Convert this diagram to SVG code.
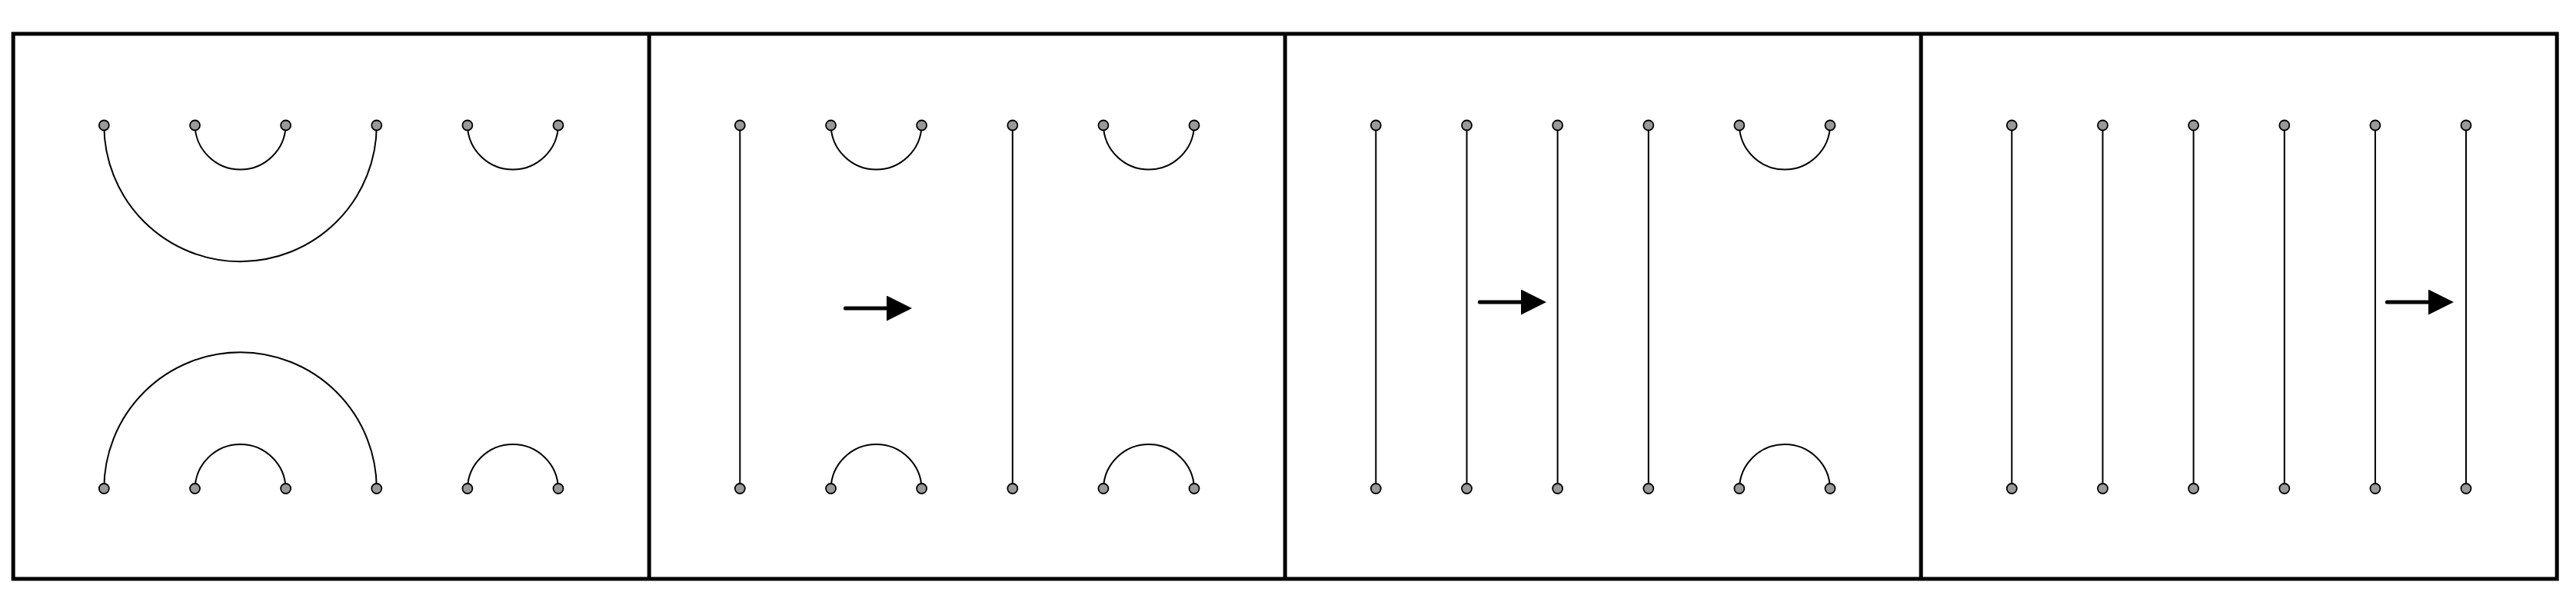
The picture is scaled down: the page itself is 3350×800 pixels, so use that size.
<svg xmlns="http://www.w3.org/2000/svg" width="3350" height="800" viewBox="0 0 3350 800">
<style>
.frame{fill:none;stroke:#000;stroke-width:5}
.div{stroke:#000;stroke-width:5}
.c{fill:none;stroke:#000;stroke-width:2}
.n{fill:#999;stroke:#000;stroke-width:1.8}
.arr{stroke:#000;stroke-width:5;stroke-linecap:round;fill:none}
</style>
<defs>
<marker id="ah" markerUnits="userSpaceOnUse" markerWidth="34" markerHeight="34" refX="1" refY="16.5" orient="auto" viewBox="0 0 34 34">
<path d="M0,0 L33,16.5 L0,33 z" fill="#000"/>
</marker>
</defs>
<rect width="3350" height="800" fill="#fff"/>
<g id="frame">
<rect class="frame" x="17.2" y="44" width="3308" height="709"/>
<line class="div" x1="844.2" y1="44" x2="844.2" y2="753"/>
<line class="div" x1="1671.2" y1="44" x2="1671.2" y2="753"/>
<line class="div" x1="2498.2" y1="44" x2="2498.2" y2="753"/>
</g>
<g id="connectors">
<!-- panel 1 -->
<path class="c" d="M135.3,163 A177.2,177.2 0 0 0 489.8,163"/>
<path class="c" d="M253.5,163 A59.07,59.07 0 0 0 371.6,163"/>
<path class="c" d="M607.9,163 A59.07,59.07 0 0 0 726.0,163"/>
<path class="c" d="M135.3,635.5 A177.2,177.2 0 0 1 489.8,635.5"/>
<path class="c" d="M253.5,635.5 A59.07,59.07 0 0 1 371.6,635.5"/>
<path class="c" d="M607.9,635.5 A59.07,59.07 0 0 1 726.0,635.5"/>
<!-- panel 2 -->
<line class="c" x1="962.3" y1="163" x2="962.3" y2="635.5"/>
<line class="c" x1="1316.8" y1="163" x2="1316.8" y2="635.5"/>
<path class="c" d="M1080.5,163 A59.07,59.07 0 0 0 1198.6,163"/>
<path class="c" d="M1434.9,163 A59.07,59.07 0 0 0 1553.0,163"/>
<path class="c" d="M1080.5,635.5 A59.07,59.07 0 0 1 1198.6,635.5"/>
<path class="c" d="M1434.9,635.5 A59.07,59.07 0 0 1 1553.0,635.5"/>
<line class="arr" x1="1099.3" y1="401" x2="1154" y2="401" marker-end="url(#ah)"/>
<!-- panel 3 -->
<line class="c" x1="1789.3" y1="163" x2="1789.3" y2="635.5"/>
<line class="c" x1="1907.5" y1="163" x2="1907.5" y2="635.5"/>
<line class="c" x1="2025.6" y1="163" x2="2025.6" y2="635.5"/>
<line class="c" x1="2143.8" y1="163" x2="2143.8" y2="635.5"/>
<path class="c" d="M2261.9,163 A59.07,59.07 0 0 0 2380.0,163"/>
<path class="c" d="M2261.9,635.5 A59.07,59.07 0 0 1 2380.0,635.5"/>
<line class="arr" x1="1924.3" y1="393" x2="1979" y2="393" marker-end="url(#ah)"/>
<!-- panel 4 -->
<line class="c" x1="2616.3" y1="163" x2="2616.3" y2="635.5"/>
<line class="c" x1="2734.5" y1="163" x2="2734.5" y2="635.5"/>
<line class="c" x1="2852.6" y1="163" x2="2852.6" y2="635.5"/>
<line class="c" x1="2970.8" y1="163" x2="2970.8" y2="635.5"/>
<line class="c" x1="3088.9" y1="163" x2="3088.9" y2="635.5"/>
<line class="c" x1="3207.0" y1="163" x2="3207.0" y2="635.5"/>
<line class="arr" x1="3104.3" y1="393" x2="3159" y2="393" marker-end="url(#ah)"/>
</g>
<g id="nodes-panel1">
<circle class="n" cx="135.3" cy="163" r="6.5"/><circle class="n" cx="253.5" cy="163" r="6.5"/><circle class="n" cx="371.6" cy="163" r="6.5"/><circle class="n" cx="489.8" cy="163" r="6.5"/><circle class="n" cx="607.9" cy="163" r="6.5"/><circle class="n" cx="726.0" cy="163" r="6.5"/>
<circle class="n" cx="135.3" cy="635.5" r="6.5"/><circle class="n" cx="253.5" cy="635.5" r="6.5"/><circle class="n" cx="371.6" cy="635.5" r="6.5"/><circle class="n" cx="489.8" cy="635.5" r="6.5"/><circle class="n" cx="607.9" cy="635.5" r="6.5"/><circle class="n" cx="726.0" cy="635.5" r="6.5"/>
</g>
<g id="nodes-panel2">
<circle class="n" cx="962.3" cy="163" r="6.5"/><circle class="n" cx="1080.5" cy="163" r="6.5"/><circle class="n" cx="1198.6" cy="163" r="6.5"/><circle class="n" cx="1316.8" cy="163" r="6.5"/><circle class="n" cx="1434.9" cy="163" r="6.5"/><circle class="n" cx="1553.0" cy="163" r="6.5"/>
<circle class="n" cx="962.3" cy="635.5" r="6.5"/><circle class="n" cx="1080.5" cy="635.5" r="6.5"/><circle class="n" cx="1198.6" cy="635.5" r="6.5"/><circle class="n" cx="1316.8" cy="635.5" r="6.5"/><circle class="n" cx="1434.9" cy="635.5" r="6.5"/><circle class="n" cx="1553.0" cy="635.5" r="6.5"/>
</g>
<g id="nodes-panel3">
<circle class="n" cx="1789.3" cy="163" r="6.5"/><circle class="n" cx="1907.5" cy="163" r="6.5"/><circle class="n" cx="2025.6" cy="163" r="6.5"/><circle class="n" cx="2143.8" cy="163" r="6.5"/><circle class="n" cx="2261.9" cy="163" r="6.5"/><circle class="n" cx="2380.0" cy="163" r="6.5"/>
<circle class="n" cx="1789.3" cy="635.5" r="6.5"/><circle class="n" cx="1907.5" cy="635.5" r="6.5"/><circle class="n" cx="2025.6" cy="635.5" r="6.5"/><circle class="n" cx="2143.8" cy="635.5" r="6.5"/><circle class="n" cx="2261.9" cy="635.5" r="6.5"/><circle class="n" cx="2380.0" cy="635.5" r="6.5"/>
</g>
<g id="nodes-panel4">
<circle class="n" cx="2616.3" cy="163" r="6.5"/><circle class="n" cx="2734.5" cy="163" r="6.5"/><circle class="n" cx="2852.6" cy="163" r="6.5"/><circle class="n" cx="2970.8" cy="163" r="6.5"/><circle class="n" cx="3088.9" cy="163" r="6.5"/><circle class="n" cx="3207.0" cy="163" r="6.5"/>
<circle class="n" cx="2616.3" cy="635.5" r="6.5"/><circle class="n" cx="2734.5" cy="635.5" r="6.5"/><circle class="n" cx="2852.6" cy="635.5" r="6.5"/><circle class="n" cx="2970.8" cy="635.5" r="6.5"/><circle class="n" cx="3088.9" cy="635.5" r="6.5"/><circle class="n" cx="3207.0" cy="635.5" r="6.5"/>
</g>
</svg>
